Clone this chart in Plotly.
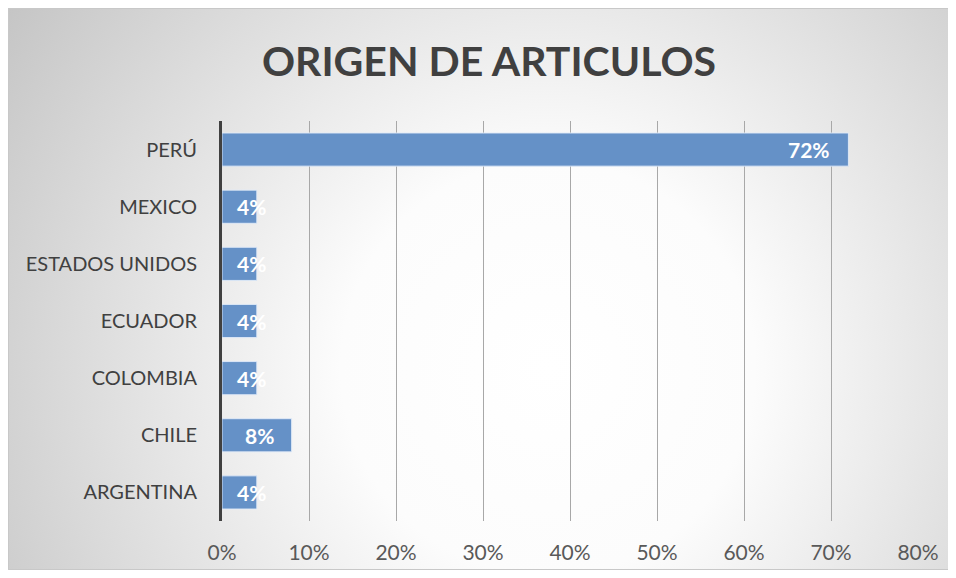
import base64
import plotly.graph_objects as go

categories = ["ARGENTINA", "CHILE", "COLOMBIA", "ECUADOR", "ESTADOS UNIDOS", "MEXICO", "PERÚ"]
values = [0.04, 0.08, 0.04, 0.04, 0.04, 0.04, 0.72]
labels = ["4%", "8%", "4%", "4%", "4%", "4%", "72%"]
x_ticks = [0, 0.1, 0.2, 0.3, 0.4, 0.5, 0.6, 0.7, 0.8]
x_tick_labels = ["0%", "10%", "20%", "30%", "40%", "50%", "60%", "70%", "80%"]

W, H = 944, 562
L, T = 214, 113
PW, PH = 696, 400
R, B = W - L - PW, H - T - PH
FONT = "Lato"

svg = """<svg xmlns='http://www.w3.org/2000/svg' width='944' height='562' preserveAspectRatio='none'>
<defs><radialGradient id='g' gradientUnits='userSpaceOnUse' cx='540' cy='360' r='690' fx='540' fy='360'>
<stop offset='0' stop-color='#ffffff'/>
<stop offset='0.3' stop-color='#fcfcfc'/>
<stop offset='1' stop-color='#c0c0c0'/>
</radialGradient></defs>
<rect width='944' height='562' fill='url(#g)'/>
</svg>"""
bg_src = "data:image/svg+xml;base64," + base64.b64encode(svg.encode()).decode()

fig = go.Figure()
fig.add_trace(go.Bar(
    x=values, y=categories, orientation="h",
    marker=dict(color="#6591c7", line=dict(color="rgba(225,235,248,0.9)", width=1)),
    width=0.58, hoverinfo="skip",
))

annotations = []
for c, v, t in zip(categories, values, labels):
    bar_px = v * PW / 0.8
    if bar_px > 60:
        annotations.append(dict(x=v, y=c, xref="x", yref="y", text=t, showarrow=False,
                                xanchor="right", xshift=-16,
                                font=dict(family=FONT, size=21, color="white", weight="bold")))
    else:
        annotations.append(dict(x=0, y=c, xref="x", yref="y", text=t, showarrow=False,
                                xanchor="left", xshift=13 if v < 0.06 else 24,
                                font=dict(family=FONT, size=21, color="white", weight="bold")))

fig.update_layout(
    width=W, height=H,
    margin=dict(l=L, r=R, t=T, b=B, autoexpand=False),
    paper_bgcolor="white", plot_bgcolor="rgba(0,0,0,0)",
    showlegend=False,
    title=dict(text="<b>ORIGEN DE ARTICULOS</b>", x=481 / W, xanchor="center",
               y=1 - 54 / H, yanchor="middle",
               font=dict(family=FONT, size=41, color="#404040")),
    xaxis=dict(range=[0, 0.8], tickvals=x_ticks, ticktext=x_tick_labels,
               showgrid=True, gridcolor="#a8a8a8", gridwidth=1, zeroline=False,
               ticks="outside", ticklen=13, tickcolor="rgba(0,0,0,0)", automargin=False,
               tickfont=dict(family=FONT, size=21, color="#595959"), fixedrange=True),
    yaxis=dict(showline=True, linecolor="#404040", linewidth=3, showgrid=False,
               ticks="outside", ticklen=18, tickcolor="rgba(0,0,0,0)", automargin=False,
               tickfont=dict(family=FONT, size=20, color="#404040"),
               categoryorder="array", categoryarray=categories),
    annotations=annotations,
    images=[dict(source=bg_src, xref="paper", yref="paper",
                 x=-L / PW, y=1 + T / PH,
                 sizex=W / PW, sizey=H / PH, sizing="stretch",
                 xanchor="left", yanchor="top", layer="below")],
    shapes=[dict(type="rect", xref="paper", yref="paper",
                 x0=-L / PW + 0.5 / PW, x1=1 + (R - 0.5) / PW,
                 y0=-(B - 0.5) / PH, y1=1 + (T - 0.5) / PH,
                 line=dict(color="#c8c8c8", width=1), layer="below")],
)

fig.write_html("out.html")
